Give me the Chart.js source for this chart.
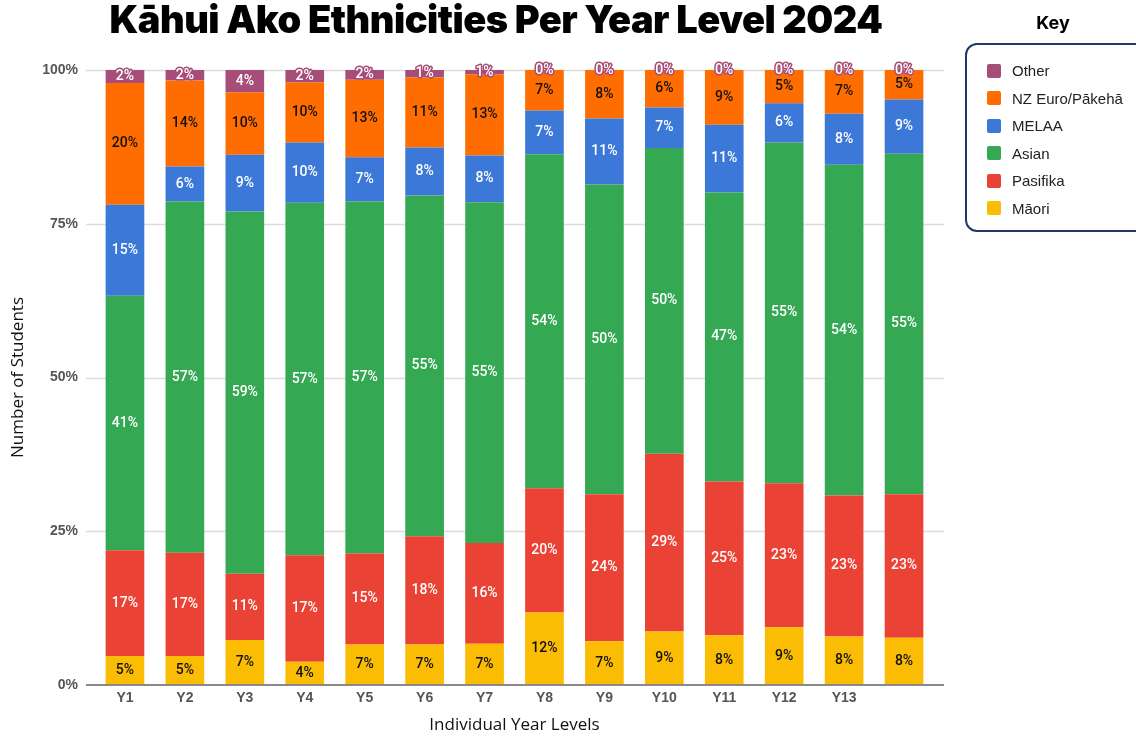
<!DOCTYPE html>
<html lang="en">
<head>
<meta charset="UTF-8">
<title>Kāhui Ako Ethnicities Per Year Level 2024</title>
<script src="https://cdn.jsdelivr.net/npm/chart.js"></script>
<style>
  body { margin: 0; background: #fff; }
  .wrap { position: relative; width: 1136px; height: 736px; overflow: hidden; }
  canvas { position: absolute; left: 0; top: 0; }
  h1 {
    position: absolute; left: 0; top: -4px; width: 992px; margin: 0;
    text-align: center; font: 900 38px Inter, sans-serif; letter-spacing: -0.5px; color: #000;
  }
  .key-title {
    position: absolute; left: 965px; top: 12px; width: 176px; text-align: center;
    font: 700 18px Inter, sans-serif; color: #000;
  }
  .key {
    position: absolute; left: 965px; top: 43px; width: 200px; height: 189px;
    box-sizing: border-box; border: 2px solid #1F3A68; border-radius: 12px;
    padding-top: 12px; font: 15px 'Liberation Sans', Arial, sans-serif; color: #222;
  }
  .key div { height: 27.5px; line-height: 27.5px; display: flex; align-items: center; }
  .key span { display: inline-block; width: 14px; height: 14px; border-radius: 2px; margin: 0 11px 0 20px; }
</style>
</head>
<body>
<div class="wrap">
  <canvas id="chart" width="1136" height="736"></canvas>
  <h1>Kāhui Ako Ethnicities Per Year Level 2024</h1>
  <div class="key-title">Key</div>
  <div class="key" id="key"></div>
</div>
<script>
// year levels (last bar has no label in the original)
const yearLevels = ['Y1', 'Y2', 'Y3', 'Y4', 'Y5', 'Y6', 'Y7', 'Y8', 'Y9', 'Y10', 'Y11', 'Y12', 'Y13', ''];

// share of students, %
const maori    = [4.7, 4.7, 7.3, 3.8, 6.6, 6.6, 6.7, 11.8, 7.1, 8.7, 8.1, 9.4, 7.9, 7.7];
const pasifika = [17.2, 16.8, 10.8, 17.3, 14.8, 17.6, 16.4, 20.2, 23.9, 28.9, 25.0, 23.4, 22.9, 23.3];
const asian    = [41.4, 57.1, 58.9, 57.3, 57.2, 55.4, 55.4, 54.3, 50.4, 49.7, 47.0, 55.4, 53.8, 55.4];
const melaa    = [14.8, 5.7, 9.2, 9.8, 7.2, 7.8, 7.6, 7.1, 10.7, 6.6, 11.0, 6.4, 8.3, 8.8];
const nzEuro   = [19.8, 14.0, 10.2, 9.8, 12.6, 11.4, 13.2, 6.6, 7.9, 6.1, 8.9, 5.4, 7.1, 4.8];
const other    = [2.1, 1.7, 3.6, 2.0, 1.6, 1.2, 0.7, 0, 0, 0, 0, 0, 0, 0];

const yTicks = [0, 25, 50, 75, 100];

const series = [
  { label: 'Māori', data: maori, color: '#FBBC04', text: '#111' },
  { label: 'Pasifika', data: pasifika, color: '#EA4335', text: '#fff' },
  { label: 'Asian', data: asian, color: '#34A853', text: '#fff' },
  { label: 'MELAA', data: melaa, color: '#3C78D8', text: '#fff' },
  { label: 'NZ Euro/Pākehā', data: nzEuro, color: '#FF6D01', text: '#111' },
  { label: 'Other', data: other, color: '#A64D79', text: '#fff', halo: true }
];

// key, top to bottom = reverse stack order
const key = document.getElementById('key');
series.slice().reverse().forEach(s => {
  const row = document.createElement('div');
  row.innerHTML = '<span style="background:' + s.color + '"></span>' + s.label;
  key.appendChild(row);
});

// grid lines run a little past the last bar, like the original
const gridLines = {
  id: 'gridLines',
  beforeDatasetsDraw(chart) {
    const y = chart.scales.y;
    const ctx = chart.ctx;
    ctx.save();
    ctx.strokeStyle = '#dcdcdc';
    ctx.lineWidth = 1.5;
    yTicks.forEach(v => {
      if (v === 0) return;
      const py = Math.round(y.getPixelForValue(v)) + 0.5;
      ctx.beginPath();
      ctx.moveTo(86, py);
      ctx.lineTo(944, py);
      ctx.stroke();
    });
    ctx.restore();
  },
  afterDatasetsDraw(chart) {
    const y = chart.scales.y;
    const ctx = chart.ctx;
    ctx.save();
    ctx.strokeStyle = '#8a8a8a';
    ctx.lineWidth = 2;
    const py = y.getPixelForValue(0);
    ctx.beginPath();
    ctx.moveTo(86, py);
    ctx.lineTo(944, py);
    ctx.stroke();
    ctx.restore();
  }
};

// percentage labels in the middle of each segment
const segmentLabels = {
  id: 'segmentLabels',
  afterDatasetsDraw(chart) {
    const ctx = chart.ctx;
    ctx.save();
    ctx.font = '500 14px Roboto, sans-serif';
    ctx.textAlign = 'center';
    ctx.textBaseline = 'middle';
    chart.data.datasets.forEach((ds, i) => {
      const s = series[i];
      chart.getDatasetMeta(i).data.forEach((bar, j) => {
        const txt = Math.round(ds.data[j]) + '%';
        const cy = (bar.y + bar.base) / 2;
        if (s.halo) {
          ctx.lineWidth = 3;
          ctx.lineJoin = 'round';
          ctx.strokeStyle = s.color;
          ctx.strokeText(txt, bar.x, cy);
        }
        ctx.fillStyle = s.text;
        ctx.fillText(txt, bar.x, cy);
      });
    });
    ctx.restore();
  }
};

new Chart(document.getElementById('chart'), {
  type: 'bar',
  data: {
    labels: yearLevels,
    datasets: series.map(s => ({
      label: s.label,
      data: s.data,
      backgroundColor: s.color,
      borderWidth: 0,
      categoryPercentage: 1,
      barPercentage: 0.645
    }))
  },
  options: {
    responsive: false,
    animation: false,
    layout: { padding: { top: 70, right: 202, left: 0, bottom: 0 } },
    plugins: { legend: { display: false }, tooltip: { enabled: false } },
    scales: {
      x: {
        stacked: true,
        grid: { display: false, drawTicks: false },
        border: { display: false },
        ticks: { color: '#555', font: { family: 'Liberation Sans', size: 14, weight: 'bold' }, padding: 5 },
        title: {
          display: true, text: 'Individual Year Levels', color: '#111',
          font: { family: 'Open Sans', size: 17 }, padding: { top: 0, bottom: 1 }
        },
        afterFit(scale) { scale.height = 51; }
      },
      y: {
        stacked: true,
        min: 0,
        max: 100,
        afterBuildTicks(scale) { scale.ticks = yTicks.map(v => ({ value: v })); },
        grid: { display: false, drawTicks: false },
        border: { display: false },
        ticks: {
          color: '#555', font: { family: 'Liberation Sans', size: 14, weight: 'bold' }, padding: 17,
          callback: v => v + '%'
        },
        title: {
          display: true, text: 'Number of Students', color: '#111',
          font: { family: 'Open Sans', size: 17 }, padding: { top: 8, bottom: 0 }
        },
        afterFit(scale) { scale.width = 95; }
      }
    }
  },
  plugins: [gridLines, segmentLabels]
});
</script>
</body>
</html>
